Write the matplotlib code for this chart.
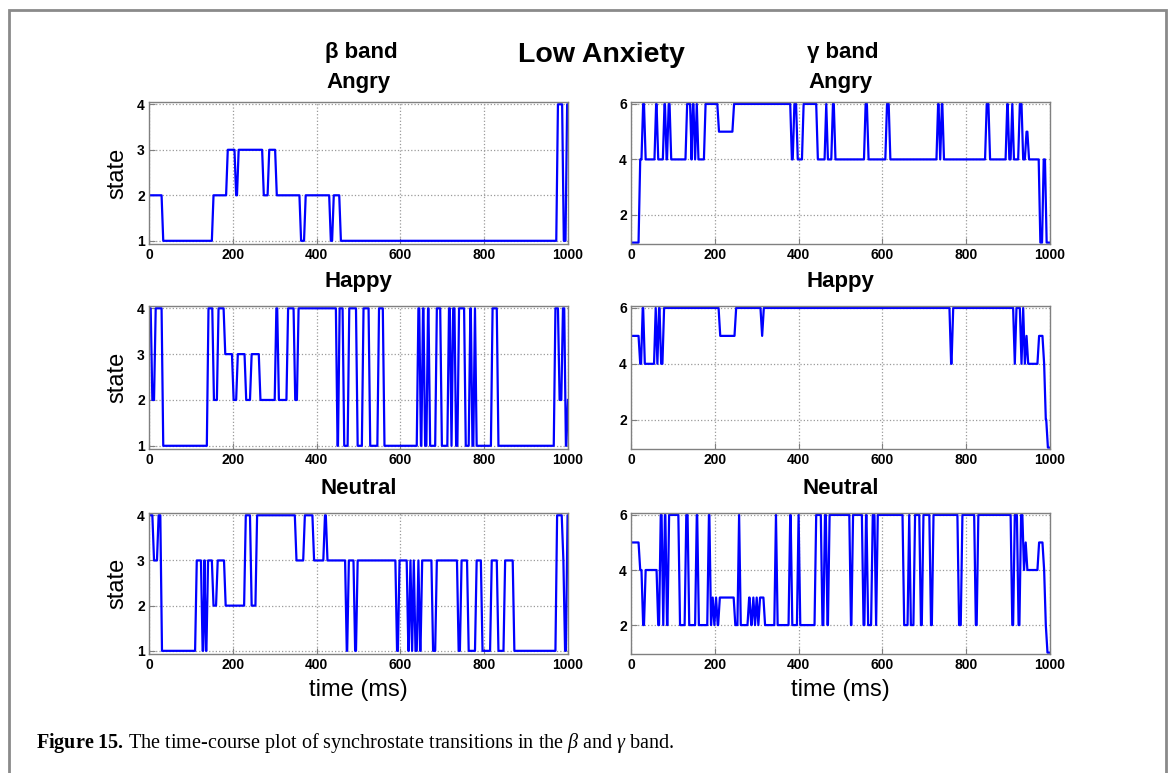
import matplotlib
matplotlib.use("Agg")
import matplotlib.pyplot as plt
from matplotlib.patches import Rectangle

plt.rcParams['font.family'] = ['Liberation Sans', 'DejaVu Sans']
plt.rcParams['mathtext.fontset'] = 'custom'
plt.rcParams['mathtext.rm'] = 'Liberation Serif'
plt.rcParams['mathtext.it'] = 'Liberation Serif:italic'
plt.rcParams['mathtext.bf'] = 'Liberation Serif:bold'

W, H = 1171, 773

# switch times (ms) and the state held before / after each switch
beta_angry_t = [32, 152, 186, 206, 212, 272, 285, 303, 361, 372, 432, 439, 456, 974, 988, 996]
beta_angry_s = [2, 1, 2, 3, 2, 3, 2, 3, 2, 1, 2, 1, 2, 1, 4, 1, 4]

beta_happy_t = [6, 14, 32, 140, 153, 164, 180, 200, 210, 230, 243, 264, 302, 308, 330, 347, 355,
                448, 453, 464, 476, 496, 510, 526, 547, 560, 641, 647, 652, 657, 664, 669,
                685, 697, 714, 720, 724, 731, 738, 754, 765, 770, 776, 780, 818, 832,
                968, 978, 986, 993, 998]
beta_happy_s = [4, 2, 4, 1, 4, 2, 4, 3, 2, 3, 2, 3, 2, 4, 2, 4, 2, 4,
                1, 4, 1, 4, 1, 4, 1, 4, 1, 4, 1, 4, 1, 4, 1,
                4, 1, 4, 1, 4, 1, 4, 1, 4, 1, 4, 1, 4, 1,
                4, 2, 4, 1, 2]

beta_neutral_t = [10, 21, 29, 112, 126, 131, 134, 139, 152, 162, 181, 229, 243, 256,
                  350, 370, 392, 418, 424, 470, 475, 490, 496,
                  590, 596, 617, 622, 626, 630, 634, 641, 645, 650, 676, 685,
                  737, 744, 761, 780, 794, 816, 832, 848, 870, 972, 987, 991, 997]
beta_neutral_s = [4, 3, 4, 1, 3, 1, 3, 1, 3, 2, 3, 2, 4, 2, 4,
                  3, 4, 3, 4, 3, 1, 3, 1, 3,
                  1, 3, 1, 3, 1, 3, 1, 3, 1, 3, 1, 3,
                  1, 3, 1, 3, 1, 3, 1, 3, 1, 4, 3, 1, 4]

gamma_angry_t = [20, 27, 33, 58, 63, 78, 83, 88, 94, 132, 143, 146, 151, 155, 159,
                 176, 208, 244, 382, 388, 396, 410, 444, 464, 468, 480, 486,
                 558, 565, 609, 617, 731, 736, 740, 745, 847, 855,
                 896, 901, 908, 912, 926, 934, 942, 948, 975, 983, 990]
gamma_angry_s = [1, 4, 6, 4, 6, 4, 6, 4, 6, 4, 6, 4, 6, 4, 6, 4,
                 6, 5, 6, 4, 6, 4, 6, 4, 6, 4, 6, 4,
                 6, 4, 6, 4, 6, 4, 6, 4, 6, 4,
                 6, 4, 6, 4, 6, 4, 5, 4, 1, 4, 1]

gamma_happy_t = [20, 26, 31, 57, 61, 65, 70, 77, 211, 249, 311, 315, 762, 767,
                 914, 918, 930, 934, 938, 942, 946, 972, 984, 988, 993]
gamma_happy_s = [5, 4, 6, 4, 6, 4, 6, 4, 6, 5, 6, 5, 6, 4, 6,
                 4, 6, 4, 6, 4, 5, 4, 5, 4, 2, 1]

gamma_neutral_t = [20, 27, 33, 63,
                   69, 75, 79, 84, 89, 115, 130, 137, 155, 160, 184, 189,
                   193, 197, 201, 205, 210, 247, 256, 260,
                   280, 285, 290, 294, 298, 302, 306, 318,
                   344, 348, 378, 383, 398, 402, 440,
                   455, 461, 467, 472, 523, 528, 553, 559, 564, 575, 583, 587,
                   650, 662, 666, 676, 690, 696, 714, 720, 781, 789, 821, 827,
                   908, 914, 923, 929, 936, 940, 944, 972, 984, 988, 992]
gamma_neutral_s = [5, 4, 2, 4, 2,
                   6, 2, 6, 2, 6, 2, 6, 2, 6, 2, 6, 2,
                   3, 2, 3, 2, 3, 2, 6, 2,
                   3, 2, 3, 2, 3, 2, 3, 2,
                   6, 2, 6, 2, 6, 2, 6,
                   2, 6, 2, 6, 2, 6, 2, 6, 2, 6, 2, 6,
                   2, 6, 2, 6, 2, 6, 2, 6, 2, 6, 2, 6,
                   2, 6, 2, 6, 4, 5, 4, 5, 4, 2, 1]

titles = ['Angry', 'Happy', 'Neutral']
beta_rows = [(beta_angry_t, beta_angry_s), (beta_happy_t, beta_happy_s), (beta_neutral_t, beta_neutral_s)]
gamma_rows = [(gamma_angry_t, gamma_angry_s), (gamma_happy_t, gamma_happy_s), (gamma_neutral_t, gamma_neutral_s)]


def state_line(times, states, ramp=4, t_end=1000):
    x, y = [0], [states[0]]
    for t, prev, new in zip(times, states[:-1], states[1:]):
        x += [t - ramp / 2, t + ramp / 2]
        y += [prev, new]
    x.append(t_end)
    y.append(states[-1])
    return x, y


def fx(px):
    return px / W


def fy(py):
    return 1 - py / H


fig = plt.figure(figsize=(W / 100, H / 100), dpi=100)

# panel boxes in pixels: (left, right) and (top, bottom)
cols = [(149, 568), (631, 1050)]
rows = [(102, 244), (306, 449), (513, 654)]
title_base = [88, 287, 494]

for c, (data, yticks, ylim) in enumerate([(beta_rows, [1, 2, 3, 4], (0.93, 4.05)),
                                           (gamma_rows, [2, 4, 6], (0.95, 6.07))]):
    left, right = cols[c]
    for r, (times, states) in enumerate(data):
        top, bottom = rows[r]
        ax = fig.add_axes([fx(left), fy(bottom), (right - left) / W, (bottom - top) / H])
        x, y = state_line(times, states)
        ax.plot(x, y, color='#0000ff', lw=1.6)
        ax.set_xlim(0, 1000)
        ax.set_ylim(*ylim)
        ax.set_xticks(range(0, 1001, 200))
        ax.set_yticks(yticks)
        ax.grid(True, linestyle=':', color='#9a9a9a', lw=0.9)
        ax.tick_params(direction='in', length=4, color='#808080', labelsize=10, pad=3)
        for lab in ax.get_xticklabels() + ax.get_yticklabels():
            lab.set_fontweight('bold')
        for sp in ax.spines.values():
            sp.set_color('#808080')
            sp.set_linewidth(1.0)
        if c == 0:
            ax.set_ylabel('state', fontsize=17)
            ax.yaxis.set_label_coords(-0.05, 0.5)
        if r == 2:
            ax.set_xlabel('time (ms)', fontsize=17)
            ax.xaxis.set_label_coords(0.5, -0.18)
        fig.text(fx((left + right) / 2), fy(title_base[r]), titles[r],
                 ha='center', va='baseline', fontsize=16, fontweight='bold')

fig.text(fx(361), fy(58), 'β band', ha='center', va='baseline', fontsize=16, fontweight='bold')
fig.text(fx(843), fy(58), 'γ band', ha='center', va='baseline', fontsize=16, fontweight='bold')
fig.text(fx(601), fy(62), 'Low Anxiety', ha='center', va='baseline', fontsize=20.5, fontweight='bold')

fig.text(fx(36), fy(748),
         r'$\mathbf{Figure\ 15.}\,$The time-course plot of synchrostate transitions in the $\beta$ and $\gamma$ band.',
         ha='left', va='baseline', fontsize=14.5, family='Liberation Serif')

fig.add_artist(Rectangle((fx(9), -0.02), fx(1166) - fx(9), fy(10) + 0.02,
                         transform=fig.transFigure, fill=False, edgecolor='#8a8a8a', lw=2))

fig.savefig('out.png', dpi=100)
